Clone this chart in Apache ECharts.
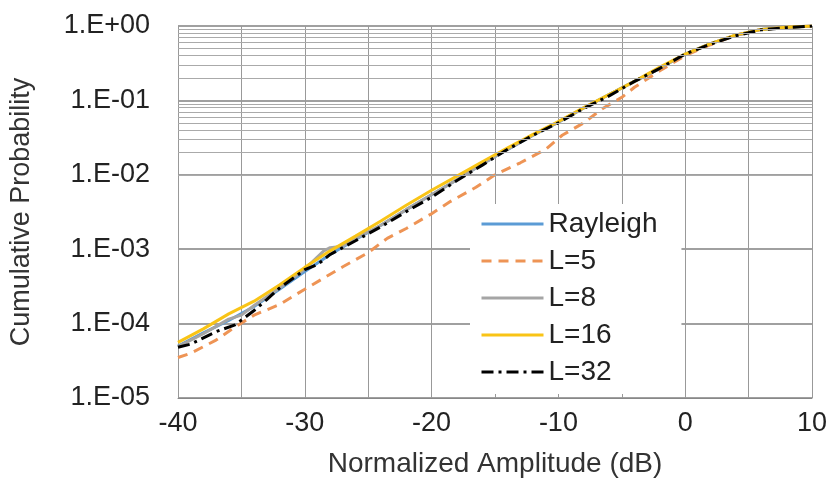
<!DOCTYPE html>
<html>
<head>
<meta charset="utf-8">
<script src="https://cdn.jsdelivr.net/npm/echarts@6/dist/echarts.min.js"></script>
<style>
  html, body { margin: 0; padding: 0; background: #fff; }
  #chart { width: 830px; height: 485px; }
</style>
</head>
<body>
<div id="chart"></div>
<script>
// x values (dB) and cumulative probabilities
const ampDb = [-40, -38, -36, -34, -32, -30, -28, -26, -24, -22, -20, -18, -16, -14, -12, -10, -8, -6, -4, -2, 0, 2, 4, 6, 8, 10]
const rayleigh = [5.0e-5, 7.5e-5, 1.1e-4, 1.7e-4, 2.9e-4, 5.0e-4, 8.5e-4, 1.35e-3, 2.1e-3, 3.4e-3, 5.4e-3, 8.6e-3, 1.4e-2, 2.2e-2, 3.4e-2, 5.1e-2, 7.9e-2, 0.12, 0.18, 0.27, 0.42, 0.58, 0.75, 0.90, 0.96, 1.0]
const l16 = [5.6e-5, 8.5e-5, 1.35e-4, 2.0e-4, 3.3e-4, 5.7e-4, 9.5e-4, 1.5e-3, 2.4e-3, 3.9e-3, 6.2e-3, 9.6e-3, 1.5e-2, 2.3e-2, 3.5e-2, 5.2e-2, 8.0e-2, 0.12, 0.18, 0.28, 0.42, 0.58, 0.76, 0.90, 0.96, 1.0]

const ampL5 = [-40, -39, -37, -35.5, -34, -32, -30, -28.5, -27, -25, -23.5, -22, -20, -18.5, -16.5, -15, -13, -11, -9.7, -8, -6.5, -5, -4, -2, 0, 2, 4, 6, 8, 10]
const l5 = [3.5e-5, 4.0e-5, 6.0e-5, 9.0e-5, 1.3e-4, 1.8e-4, 2.9e-4, 4.1e-4, 5.8e-4, 9.0e-4, 1.4e-3, 1.9e-3, 3.0e-3, 4.4e-3, 6.8e-3, 1.0e-2, 1.45e-2, 2.2e-2, 3.4e-2, 5.0e-2, 7.8e-2, 0.11, 0.15, 0.25, 0.40, 0.56, 0.75, 0.90, 0.96, 1.0]

const ampL8 = [-40, -38, -36, -35, -34, -32, -30, -28.5, -28, -27, -26, -24, -22, -20, -18, -16, -14, -12, -10, -8, -6, -4, -2, 0, 2, 4, 6, 8, 10]
const l8 = [4.9e-5, 7.3e-5, 1.15e-4, 1.3e-4, 1.75e-4, 3.0e-4, 5.4e-4, 9.5e-4, 1.05e-3, 1.1e-3, 1.4e-3, 2.1e-3, 3.4e-3, 5.4e-3, 8.6e-3, 1.4e-2, 2.2e-2, 3.4e-2, 5.1e-2, 7.9e-2, 0.12, 0.18, 0.27, 0.42, 0.58, 0.75, 0.90, 0.96, 1.0]

const ampL32 = [-40, -39, -37, -35.5, -34, -33, -32, -30, -29, -28, -26, -24, -22, -20, -18, -16, -14, -12, -10, -8, -6, -4, -2, 0, 2, 4, 6, 8, 10]
const l32 = [4.8e-5, 5.3e-5, 7.8e-5, 9.6e-5, 1.5e-4, 2.1e-4, 3.0e-4, 5.3e-4, 6.2e-4, 8.5e-4, 1.3e-3, 2.0e-3, 3.2e-3, 5.0e-3, 8.4e-3, 1.35e-2, 2.2e-2, 3.4e-2, 5.0e-2, 7.8e-2, 0.115, 0.18, 0.27, 0.42, 0.57, 0.74, 0.89, 0.95, 1.0]

const seriesNames = ['Rayleigh', 'L=5', 'L=8', 'L=16', 'L=32']

// minor log gridlines (2..9 in each decade)
const decades = [-5, -4, -3, -2, -1]
const mantissas = [2, 3, 4, 5, 6, 7, 8, 9]
const minorLines = []
decades.forEach(d => mantissas.forEach(m => minorLines.push({ yAxis: m * Math.pow(10, d) })))

const zip = (xs, ys) => xs.map((x, i) => [x, ys[i]])
const font = 'Liberation Sans, Arial, sans-serif'

const fmtExp = (v) => {
  const e = Math.round(Math.log10(v))
  const s = e >= 0 ? '+' : '-'
  return '1.E' + s + String(Math.abs(e)).padStart(2, '0')
}

const lineSeries = (name, data, color, type, width) => ({
  name,
  type: 'line',
  data,
  symbol: 'none',
  z: 3,
  lineStyle: { color, width, type },
  itemStyle: { color }
})

const chart = echarts.init(document.getElementById('chart'))
chart.setOption({
  animation: false,
  grid: { left: 178, top: 26, right: 17, bottom: 87 },
  legend: {
    data: seriesNames,
    orient: 'vertical',
    left: 470,
    top: 204,
    padding: [6, 24, 8, 10],
    backgroundColor: '#fff',
    itemWidth: 62,
    itemHeight: 14,
    itemGap: 9,
    itemStyle: { opacity: 0 },
    lineStyle: { width: 3 },
    textStyle: { fontFamily: font, fontSize: 28, color: '#222' }
  },
  xAxis: {
    type: 'value',
    min: -40,
    max: 10,
    interval: 5,
    name: 'Normalized Amplitude (dB)',
    nameLocation: 'middle',
    nameGap: 52,
    nameTextStyle: { fontFamily: font, fontSize: 28, color: '#333' },
    axisLine: { show: true, lineStyle: { color: '#888', width: 1 } },
    axisTick: { show: false },
    axisLabel: {
      margin: 12,
      fontFamily: font,
      fontSize: 27,
      color: '#222',
      formatter: v => (v % 10 === 0 ? String(v) : '')
    },
    splitLine: { show: true, lineStyle: { color: '#999', width: 1 } }
  },
  yAxis: {
    type: 'log',
    logBase: 10,
    min: 1e-5,
    max: 1,
    name: 'Cumulative Probability',
    nameLocation: 'middle',
    nameGap: 143,
    nameTextStyle: { fontFamily: font, fontSize: 27, color: '#333' },
    axisLine: { show: false },
    axisTick: { show: false },
    axisLabel: { margin: 28, fontFamily: font, fontSize: 27, color: '#222', formatter: fmtExp },
    splitLine: { show: true, lineStyle: { color: '#808080', width: 1.5 } }
  },
  series: [
    {
      name: 'grid-minor',
      type: 'line',
      data: [],
      silent: true,
      z: 1,
      markLine: {
        silent: true,
        symbol: 'none',
        animation: false,
        label: { show: false },
        lineStyle: { color: '#aaa', width: 1, type: 'solid' },
        data: minorLines
      }
    },
    lineSeries('Rayleigh', zip(ampDb, rayleigh), '#5B9BD5', 'solid', 3),
    lineSeries('L=5', zip(ampL5, l5), '#EE9455', [10, 7], 3),
    lineSeries('L=8', zip(ampL8, l8), '#A5A5A5', 'solid', 3),
    lineSeries('L=16', zip(ampDb, l16), '#F9C416', 'solid', 3),
    lineSeries('L=32', zip(ampL32, l32), '#000000', [12, 5, 3, 5], 3)
  ]
})
</script>
</body>
</html>
